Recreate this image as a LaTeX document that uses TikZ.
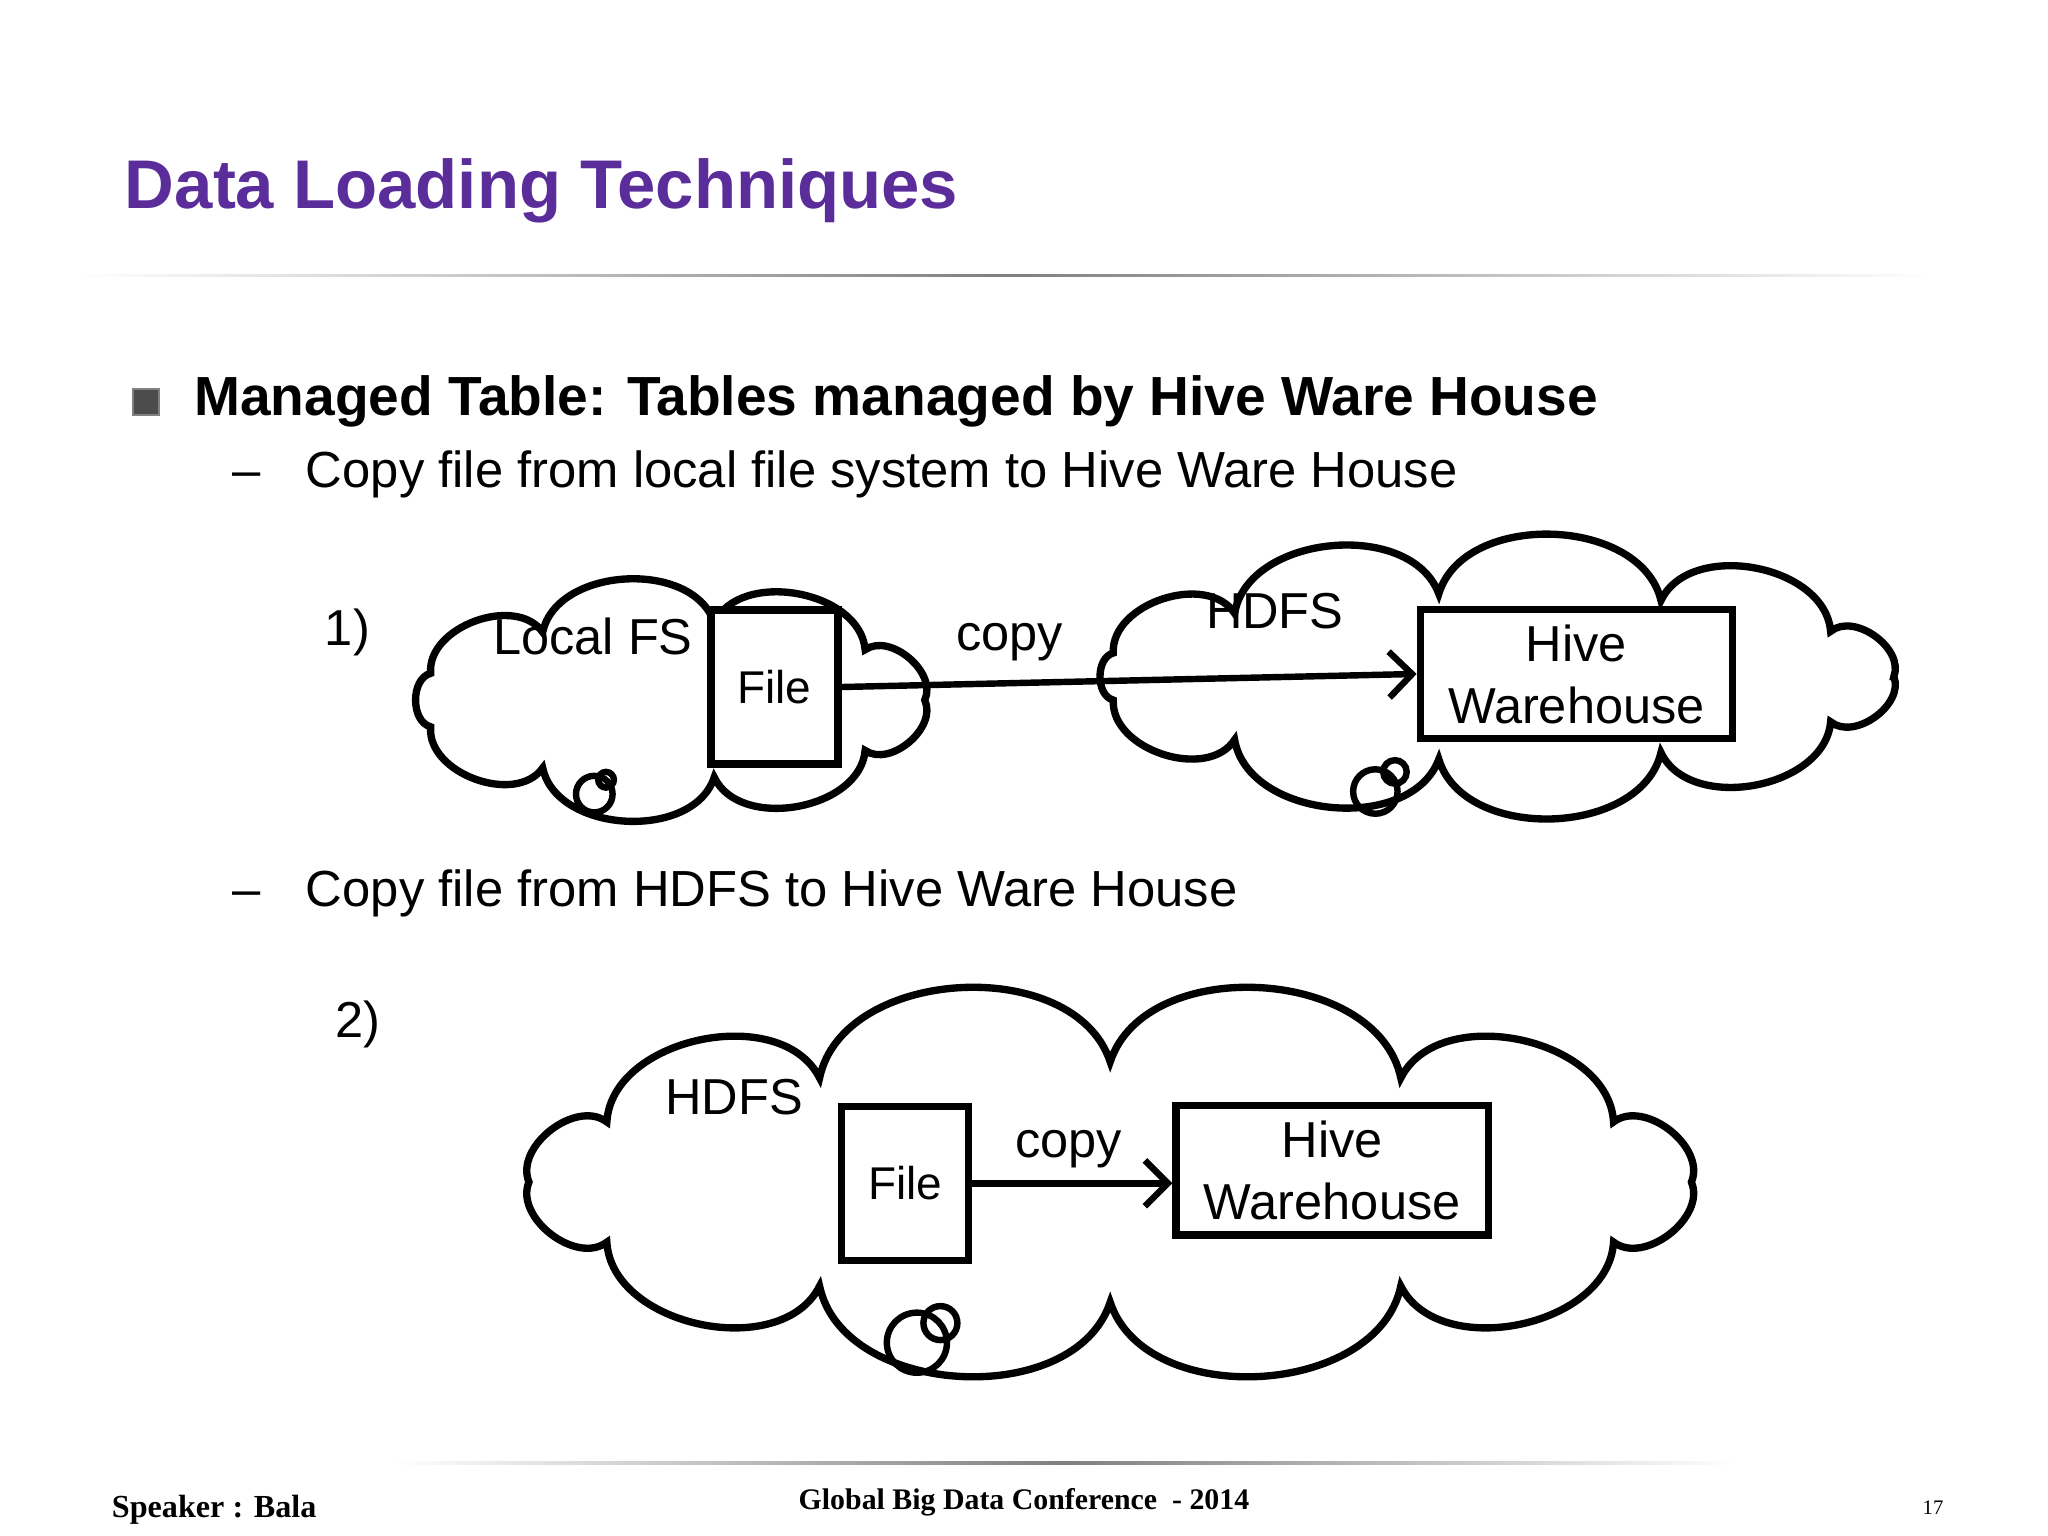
\documentclass[tikz,border=0pt]{standalone}
\usepackage{fontspec}
\setmainfont{Liberation Sans}
\newfontfamily\serifx{Liberation Serif}
\usetikzlibrary{arrows.meta}
\definecolor{titlec}{HTML}{5B2D9B}
\tikzset{
 cloudline/.style={line width=1.6pt},
 bx/.style={draw, line width=1.6pt, inner sep=0pt, align=center, font=\fontsize{10}{12}\selectfont},
 hv/.style={bx, font=\fontsize{11}{13.5}\selectfont, minimum width=2.39cm, minimum height=0.99cm, fill=white},
 lbl/.style={font=\fontsize{11}{13}\selectfont},
 arr/.style={-{Straight Barb[length=5pt]}, line width=1.4pt},
 ring/.style={draw, line width=1.4pt, circle, inner sep=0pt},
 txt/.style={anchor=west, inner sep=0pt}
}
\newcommand\mycloud[5]{% cx cy rx ry n
 \pgfmathsetmacro\stp{360/#5}
 \draw[cloudline] ({#1+#3},{#2}) \foreach \i in {1,...,#5}{ to[bend left=75] ({#1+#3*cos(\i*\stp)},{#2+#4*sin(\i*\stp)}) } -- cycle;
}
\begin{document}
\begin{tikzpicture}[x=0.01cm,y=-0.01cm]
\useasboundingbox (0,0) rectangle (1568,1176);
\node[txt,text=titlec,font=\bfseries\fontsize{15}{18}\selectfont] (title) at (95,146) {Data Loading Techniques};
\shade[left color=white,right color=white,middle color=gray] (60,210) rectangle (1480,212);
\shade[left color=white,right color=white,middle color=gray] (300,1119) rectangle (1330,1121);
\node[draw=gray,fill=black!70,minimum size=0.2cm,inner sep=0pt] (b) at (112,308) {};
\node[txt,font=\bfseries\fontsize{12}{14}\selectfont] (h1) at (148,307) {Managed Table: Tables managed by Hive Ware House};
\node[txt,font=\fontsize{11.05}{13}\selectfont] (s1) at (177,363) {–\hspace{0.9em}Copy file from local file system to Hive Ware House};
\node[txt,font=\fontsize{11.05}{13}\selectfont] (s2) at (177,684) {–\hspace{0.9em}Copy file from HDFS to Hive Ware House};
\node[lbl] (n1) at (266,484) {1)};
\node[lbl] (n2) at (274,784) {2)};
% cloud 1
\mycloud{513}{536}{195}{60}{9}
\node[lbl] (lfs) at (454,487) {Local FS};
\node[bx,fill=white,minimum width=0.97cm,minimum height=1.18cm] (f1) at (593,526) {File};
\node[ring,minimum size=0.28cm] (r1) at (455,608) {};
\node[ring,minimum size=0.12cm] (r2) at (464,597) {};
% cloud 2
\mycloud{1145}{518}{305}{64}{11}
\node[lbl] (hd1) at (976,468) {HDFS};
\node[hv] (h1b) at (1207,516) {Hive\\Warehouse};
\node[ring,minimum size=0.34cm] (r3) at (1053,606) {};
\node[ring,minimum size=0.18cm] (r4) at (1068,591) {};
\draw[arr] (f1.east) -- (h1b.west);
\node[lbl] (cp1) at (773,492) {copy};
% cloud 3
\mycloud{850}{905}{445}{92}{12}
\node[lbl] (hd2) at (562,840) {HDFS};
\node[bx,fill=white,minimum width=0.97cm,minimum height=1.18cm] (f2) at (693,906) {File};
\node[hv] (h2b) at (1020,896) {Hive\\Warehouse};
\draw[arr] (f2.east) -- (f2.east -| h2b.west);
\node[lbl] (cp2) at (818,880) {copy};
\node[ring,minimum size=0.46cm] (r5) at (702,1028) {};
\node[ring,minimum size=0.26cm] (r6) at (720,1013) {};
% footer
\node[txt,font=\serifx\bfseries\fontsize{7}{8}\selectfont] (sp) at (85,1156) {Speaker : Bala};
\node[font=\serifx\bfseries\fontsize{6.5}{8}\selectfont] (gc) at (784,1150) {Global Big Data Conference\ \ - 2014};
\node[font=\serifx\fontsize{4.5}{6}\selectfont] (pg) at (1480,1154) {17};
\end{tikzpicture}
\end{document}
